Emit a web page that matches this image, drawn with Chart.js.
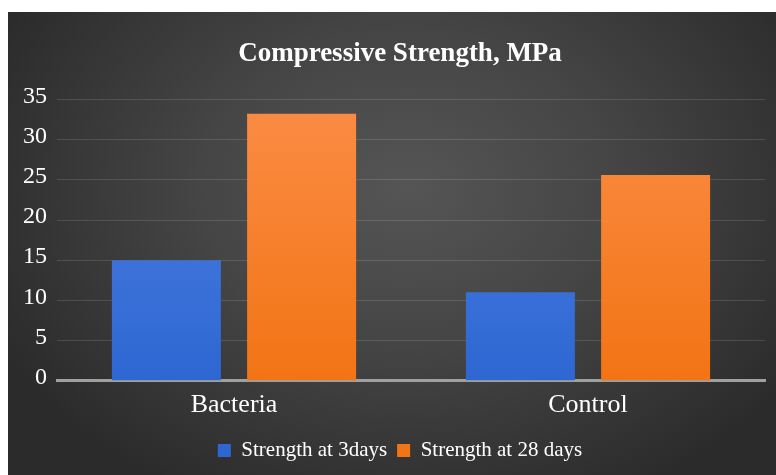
<!DOCTYPE html>
<html>
<head>
<meta charset="utf-8">
<script src="https://cdn.jsdelivr.net/npm/chart.js@4/dist/chart.umd.min.js"></script>
<style>
  html, body { margin: 0; padding: 0; background: #ffffff; width: 776px; height: 475px; overflow: hidden; }
  #panel {
    position: absolute; left: 8px; top: 12px; width: 768px; height: 463px; overflow: hidden;
    background: radial-gradient(ellipse 60% 75% at 52% 38%, #555555 0%, #454545 45%, #323232 85%, #2b2b2b 100%);
  }
  #chart { position: absolute; left: 0; top: 0; }
</style>
</head>
<body>
<div id="panel"><canvas id="chart" width="788" height="463"></canvas></div>
<script>
// Compressive strength of concrete samples (MPa)
const categories = ['Bacteria', 'Control'];
const seriesNames = ['Strength at 3days', 'Strength at 28 days'];
const strength3Days = [15.0, 11.0];
const strength28Days = [33.2, 25.6];
const yTicks = [0, 5, 10, 15, 20, 25, 30, 35];

const serif = '"Liberation Serif", "Times New Roman", serif';

function verticalGradient(top, bottom) {
  return (ctx) => {
    const area = ctx.chart.chartArea;
    if (!area) return bottom;
    const g = ctx.chart.ctx.createLinearGradient(0, area.top, 0, area.bottom);
    g.addColorStop(0, top);
    g.addColorStop(1, bottom);
    return g;
  };
}

new Chart(document.getElementById('chart'), {
  type: 'bar',
  data: {
    labels: categories,
    datasets: [
      {
        label: seriesNames[0],
        data: strength3Days,
        backgroundColor: verticalGradient('#4f80e3', '#2e67d2'),
        borderWidth: 0,
        categoryPercentage: 0.764,
        barPercentage: 0.806
      },
      {
        label: seriesNames[1],
        data: strength28Days,
        backgroundColor: verticalGradient('#fb8c45', '#f27414'),
        borderWidth: 0,
        categoryPercentage: 0.764,
        barPercentage: 0.806
      }
    ]
  },
  options: {
    responsive: false,
    animation: false,
    devicePixelRatio: 1,
    layout: { padding: { top: 26, left: 5, right: 9, bottom: 4 } },
    plugins: {
      title: {
        display: true,
        text: 'Compressive Strength, MPa',
        color: '#ffffff',
        font: { family: serif, size: 27, weight: 'bold' },
        padding: { top: 0, bottom: 29 }
      },
      legend: {
        position: 'bottom',
        labels: {
          color: '#ffffff',
          font: { family: serif, size: 21 },
          boxWidth: 13,
          boxHeight: 13,
          padding: 10
        }
      },
      tooltip: { enabled: false }
    },
    scales: {
      x: {
        grid: { display: false, drawTicks: false },
        border: { display: true, color: '#a0a0a0', width: 3 },
        ticks: { color: '#ffffff', font: { family: serif, size: 26 }, padding: 9 }
      },
      y: {
        min: 0,
        max: 35,
        afterBuildTicks: (axis) => { axis.ticks = yTicks.map(v => ({ value: v })); },
        grid: { color: 'rgba(255,255,255,0.13)', lineWidth: 1, drawTicks: false },
        border: { display: false },
        ticks: { color: '#ffffff', font: { family: serif, size: 24 }, padding: 10, labelOffset: -3 }
      },
      // empty right-hand margin beside the plot (keeps the title and legend centred on the panel)
      margin: {
        type: 'linear',
        position: 'right',
        display: true,
        grid: { display: false, drawTicks: false },
        border: { display: false },
        ticks: { display: false },
        afterFit: (axis) => { axis.width = 22; }
      }
    }
  }
});
</script>
</body>
</html>
